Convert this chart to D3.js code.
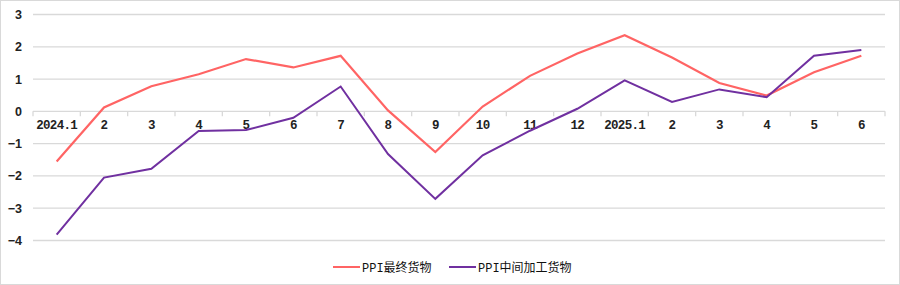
<!DOCTYPE html>
<html><head><meta charset="utf-8">
<script src="https://cdn.jsdelivr.net/npm/d3@7/dist/d3.min.js"></script>
<style>html,body{margin:0;padding:0;background:#fff;}svg{display:block;}</style>
</head><body><div id="chart"></div>
<script>
const categories = ["2024.1","2","3","4","5","6","7","8","9","10","11","12","2025.1","2","3","4","5","6"];
const finalGoods = [-1.55,0.12,0.78,1.15,1.62,1.36,1.72,0.03,-1.26,0.15,1.1,1.79,2.36,1.67,0.88,0.49,1.21,1.72];
const intermediateGoods = [-3.82,-2.05,-1.78,-0.61,-0.58,-0.2,0.77,-1.32,-2.71,-1.36,-0.6,0.08,0.96,0.29,0.68,0.44,1.72,1.9];
const yTicks = [3,2,1,0,-1,-2,-3,-4];
const seriesNames = ["PPI最终货物","PPI中间加工货物"];
const seriesColors = ["#FF6464","#7030A0"];

const W = 900, H = 285;
const svg = d3.select("#chart").append("svg").attr("width", W).attr("height", H);
svg.append("rect").attr("x",0.5).attr("y",0.5).attr("width",W-1).attr("height",H-1)
  .attr("fill","#fff").attr("stroke","#d9d9d9");

const left = 33, right = 885;
const x = d3.scaleBand().domain(d3.range(categories.length)).range([left, right]).padding(0);
const y = d3.scaleLinear().domain([-4, 3]).range([240.5, 14.5]);

// gridlines
svg.append("g").selectAll("line").data(yTicks.filter(v => v !== 0)).join("line")
  .attr("x1", left).attr("x2", right)
  .attr("y1", d => y(d)).attr("y2", d => y(d))
  .attr("stroke", "#d9d9d9").attr("stroke-width", 1.3);

// y axis labels
const yAxis = d3.axisLeft(y).tickValues(yTicks).tickSize(0).tickPadding(11)
  .tickFormat(d => d < 0 ? "\u2212" + Math.abs(d) : String(d));
const yg = svg.append("g").attr("transform", `translate(${left},0)`).call(yAxis);
yg.select(".domain").remove();
yg.selectAll("text").attr("font-family", "'Liberation Sans', Arial, sans-serif")
  .attr("font-weight", "bold").attr("font-size", 12.5).attr("fill", "#222");

// zero axis with ticks at band boundaries
const zeroY = y(0);
svg.append("line").attr("x1", left).attr("x2", right).attr("y1", zeroY).attr("y2", zeroY)
  .attr("stroke", "#d9d9d9").attr("stroke-width", 1.3);
const bounds = d3.range(categories.length + 1).map(i => i < categories.length ? x(i) : right);
svg.append("g").selectAll("line").data(bounds).join("line")
  .attr("x1", d => d).attr("x2", d => d).attr("y1", zeroY).attr("y2", zeroY + 5)
  .attr("stroke", "#d9d9d9").attr("stroke-width", 1.3);

// x labels
svg.append("g").selectAll("text").data(categories).join("text")
  .attr("x", (d, i) => x(i) + x.bandwidth() / 2).attr("y", 129)
  .attr("text-anchor", "middle")
  .attr("font-family", "'Liberation Mono', 'DejaVu Sans Mono', monospace")
  .attr("font-weight", "bold").attr("font-size", 12.5).attr("letter-spacing", -0.7)
  .attr("fill", "#222")
  .text(d => d);

// lines
const line = d3.line().x((d, i) => x(i) + x.bandwidth() / 2).y(d => y(d));
[finalGoods, intermediateGoods].forEach((s, k) => {
  svg.append("path").datum(s).attr("d", line).attr("fill", "none")
    .attr("stroke", seriesColors[k]).attr("stroke-width", k === 0 ? 2.2 : 2)
    .attr("stroke-linejoin", "miter");
});

// legend
const legendItems = [{x: 333}, {x: 449}];
legendItems.forEach((it, k) => {
  const g = svg.append("g");
  g.append("line").attr("x1", it.x).attr("x2", it.x + 27).attr("y1", 267).attr("y2", 267)
    .attr("stroke", seriesColors[k]).attr("stroke-width", 2);
  g.append("text").attr("x", it.x + 29).attr("y", 271.5)
    .attr("font-family", "'Liberation Mono', 'Noto Sans CJK SC', monospace")
    .attr("font-size", 12).attr("fill", "#111").text(seriesNames[k]);
});
</script></body></html>
